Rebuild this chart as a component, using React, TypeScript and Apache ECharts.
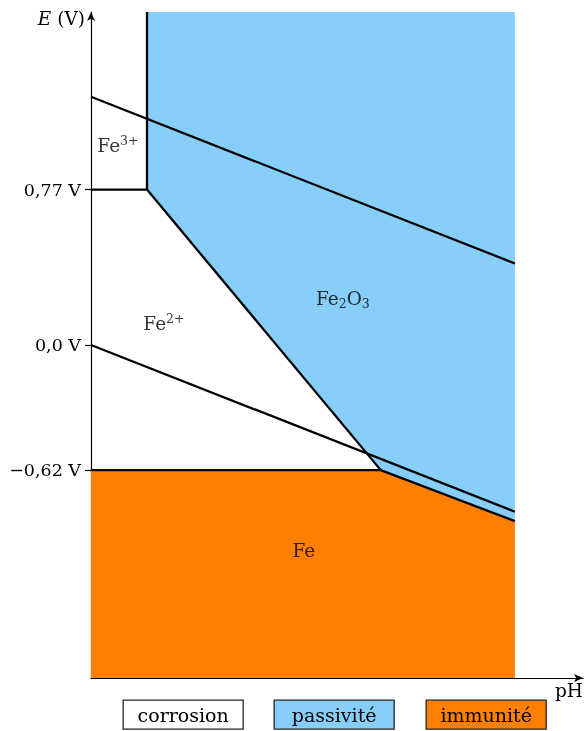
import React, { useEffect, useRef } from "react";
import * as echarts from "echarts";

// pH range of the diagram and potential range (V)
const E_MIN = -1.65;
const E_MAX = 1.65;

// Region polygons [pH, E]
const passivityPoints: number[][] = [
  [1.85, 1.65],
  [14, 1.65],
  [14, -0.873],
  [9.57, -0.62],
  [1.85, 0.77],
];
const immunityPoints: number[][] = [
  [0, -0.62],
  [9.57, -0.62],
  [14, -0.873],
  [14, -1.65],
  [0, -1.65],
];

// Boundary lines [pH, E]
const waterO2Line: number[][] = [[0, 1.23], [14, 0.404]];
const waterH2Line: number[][] = [[0, 0], [14, -0.826]];
const fe3Fe2Line: number[][] = [[0, 0.77], [1.85, 0.77]];
const fe3Fe2O3Line: number[][] = [[1.85, 1.65], [1.85, 0.77]];
const fe2Fe2O3Line: number[][] = [[1.85, 0.77], [9.57, -0.62]];
const fe2o3FeLine: number[][] = [[9.57, -0.62], [14, -0.873]];
const fe2FeLine: number[][] = [[0, -0.62], [9.57, -0.62]];

// Y tick values and labels
const eTicks = [0.77, 0, -0.62];
const eTickLabels = ["0,77 V", "0,0 V", "\u22120,62 V"];

// Species labels
const speciesText = ["Fe{sup|3+}", "Fe{sup|2+}", "Fe{sub|2}O{sub|3}", "Fe"];
const speciesPH = [0.89, 2.41, 8.32, 7.03];
const speciesE = [0.99, 0.109, 0.228, -1.016];

// Legend
const legendNames = ["corrosion", "passivit\u00e9", "immunit\u00e9"];
const legendColors = ["#ffffff", "#87cefa", "#ff8000"];

const FONT = "DejaVu Serif";

export default function App() {
  const ref = useRef<HTMLDivElement>(null);

  useEffect(() => {
    if (!ref.current) return;
    const chart = echarts.init(ref.current, null, { renderer: "svg" });

    const polygons = [
      { points: passivityPoints, color: legendColors[1] },
      { points: immunityPoints, color: legendColors[2] },
    ];

    const lines = [
      waterO2Line,
      waterH2Line,
      fe3Fe2Line,
      fe3Fe2O3Line,
      fe2Fe2O3Line,
      fe2o3FeLine,
      fe2FeLine,
    ];

    const legendX = [122.5, 273.5, 425.5];

    const option: any = {
      animation: false,
      textStyle: { fontFamily: FONT },
      grid: { left: 91, right: 2, top: 12, bottom: 53, containLabel: false },
      xAxis: {
        type: "value",
        min: 0,
        max: 16.25,
        splitLine: { show: false },
        axisTick: { show: false },
        axisLabel: { show: false },
        axisLine: {
          onZero: false,
          symbol: ["none", "arrow"],
          symbolSize: [6, 9],
          lineStyle: { color: "#000", width: 1.2 },
        },
      },
      yAxis: {
        type: "value",
        min: E_MIN,
        max: E_MAX,
        splitLine: { show: false },
        axisLine: {
          onZero: false,
          symbol: ["none", "arrow"],
          symbolSize: [6, 9],
          lineStyle: { color: "#000", width: 1.2 },
        },
        axisTick: {
          show: true,
          length: 6,
          customValues: eTicks,
          lineStyle: { color: "#000", width: 1.2 },
        },
        axisLabel: {
          show: true,
          margin: 10,
          customValues: eTicks,
          color: "#000",
          fontSize: 17.5,
          fontFamily: FONT,
          formatter: (v: number) => {
            const i = eTicks.findIndex((t) => Math.abs(t - v) < 1e-6);
            return i >= 0 ? eTickLabels[i] : "";
          },
        },
      },
      series: [
        {
          type: "custom",
          coordinateSystem: "cartesian2d",
          silent: true,
          z: 1,
          data: polygons.map((_, i) => [i, 0]),
          renderItem: (params: any, api: any) => {
            const poly = polygons[params.dataIndex];
            return {
              type: "polygon",
              shape: { points: poly.points.map((p) => api.coord(p)) },
              style: { fill: poly.color, stroke: "none" },
            };
          },
        },
        ...lines.map((l) => ({
          type: "line",
          data: l,
          symbol: "none",
          silent: true,
          z: 3,
          lineStyle: { color: "#000", width: 2.3 },
        })),
        {
          type: "scatter",
          symbolSize: 0,
          silent: true,
          z: 5,
          data: speciesPH.map((p, i) => [p, speciesE[i]]),
          label: {
            show: true,
            position: "inside",
            color: "#000",
            fontFamily: FONT,
            fontSize: 18.5,
            formatter: (p: any) => speciesText[p.dataIndex],
            rich: {
              sup: { fontSize: 12.5, fontFamily: FONT, color: "#000", padding: [0, 0, 9, 0] },
              sub: { fontSize: 12.5, fontFamily: FONT, color: "#000", padding: [9, 0, 0, 0] },
            },
          },
        },
      ],
      graphic: [
        {
          type: "text",
          right: 585 - 85,
          top: 9,
          style: {
            text: "{i|E} (V)",
            fontSize: 18.5,
            fontFamily: FONT,
            fill: "#000",
            rich: { i: { fontStyle: "italic", fontSize: 18.5, fontFamily: FONT } },
          },
        },
        {
          type: "text",
          left: 555,
          top: 681,
          style: { text: "pH", fontSize: 18.5, fontFamily: FONT, fill: "#000" },
        },
        ...legendNames.map((name, i) => ({
          type: "group",
          left: legendX[i],
          top: 699.5,
          children: [
            {
              type: "rect",
              shape: { x: 0, y: 0, width: 120, height: 29 },
              style: { fill: legendColors[i], stroke: "#222", lineWidth: 1.3 },
            },
            {
              type: "text",
              x: 60,
              y: 14.5,
              style: {
                text: name,
                fontSize: 19,
                fontFamily: FONT,
                fill: "#000",
                align: "center",
                verticalAlign: "middle",
              },
            },
          ],
        })),
      ],
    };

    chart.setOption(option);
    return () => chart.dispose();
  }, []);

  return (
    <div
      ref={ref}
      style={{ position: "fixed", left: 0, top: 0, width: 585, height: 731 }}
    />
  );
}
